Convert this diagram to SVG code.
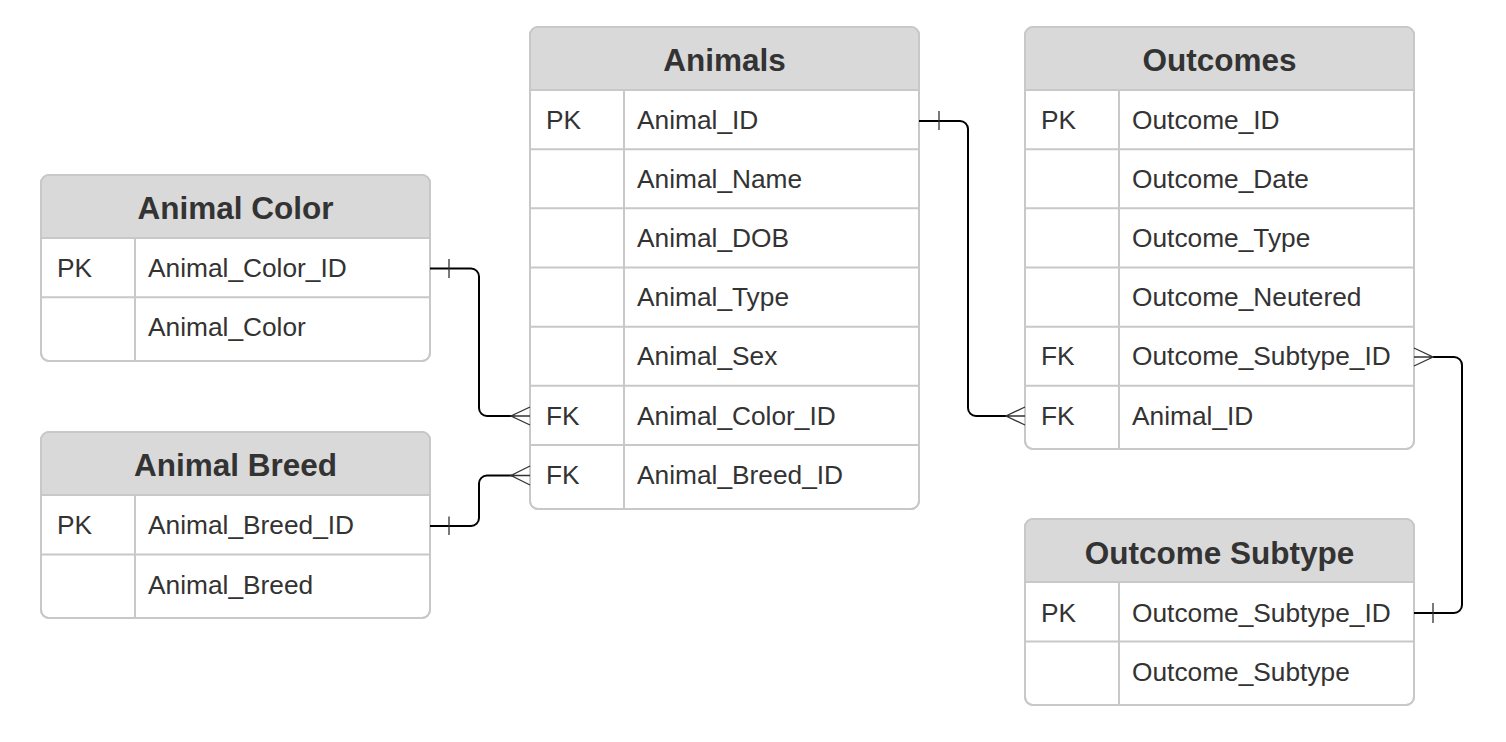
<svg xmlns="http://www.w3.org/2000/svg" width="1506" height="742" viewBox="0 0 1506 742">
<style>
.box{fill:#fff;stroke:#c8c8c8;stroke-width:2}
.hdr{fill:#d9d9d9;stroke:none}
.ln{stroke:#c8c8c8;stroke-width:2;fill:none}
.t{font-family:"Liberation Sans",Arial,sans-serif;font-size:31.5px;font-weight:bold;fill:#333;text-anchor:middle}
.f{font-family:"Liberation Sans",Arial,sans-serif;font-size:26.3px;fill:#333}
.c{fill:none;stroke:#000;stroke-width:2}
.m{fill:none;stroke:#333;stroke-width:1.3}
</style>
<rect width="1506" height="742" fill="#fff"/>

<g id="animals">
<rect class="box" x="530" y="27" width="389" height="482" rx="8"/>
<path class="hdr" d="M531,90 V35 a7,7 0 0 1 7,-7 H911 a7,7 0 0 1 7,7 V90 Z"/>
<rect class="box" x="530" y="27" width="389" height="482" rx="8" style="fill:none"/>
<path class="ln" d="M530,90H919 M530,149.2H919 M530,208.3H919 M530,267.5H919 M530,326.7H919 M530,385.8H919 M530,445H919 M624,90V509"/>
<text class="t" x="724.5" y="71">Animals</text>
<text class="f" x="546" y="129">PK</text><text class="f" x="637" y="129">Animal_ID</text>
<text class="f" x="637" y="188">Animal_Name</text>
<text class="f" x="637" y="247">Animal_DOB</text>
<text class="f" x="637" y="306">Animal_Type</text>
<text class="f" x="637" y="365">Animal_Sex</text>
<text class="f" x="546" y="425">FK</text><text class="f" x="637" y="425">Animal_Color_ID</text>
<text class="f" x="546" y="484">FK</text><text class="f" x="637" y="484">Animal_Breed_ID</text>
</g>

<g id="outcomes">
<rect class="box" x="1025" y="27" width="389" height="422" rx="8"/>
<path class="hdr" d="M1026,90 V35 a7,7 0 0 1 7,-7 H1406 a7,7 0 0 1 7,7 V90 Z"/>
<rect class="box" x="1025" y="27" width="389" height="422" rx="8" style="fill:none"/>
<path class="ln" d="M1025,90H1414 M1025,149.2H1414 M1025,208.3H1414 M1025,267.5H1414 M1025,326.7H1414 M1025,385.8H1414 M1119,90V449"/>
<text class="t" x="1219.5" y="71">Outcomes</text>
<text class="f" x="1041" y="129">PK</text><text class="f" x="1132" y="129">Outcome_ID</text>
<text class="f" x="1132" y="188">Outcome_Date</text>
<text class="f" x="1132" y="247">Outcome_Type</text>
<text class="f" x="1132" y="306">Outcome_Neutered</text>
<text class="f" x="1041" y="365">FK</text><text class="f" x="1132" y="365">Outcome_Subtype_ID</text>
<text class="f" x="1041" y="425">FK</text><text class="f" x="1132" y="425">Animal_ID</text>
</g>

<g id="animal-color">
<rect class="box" x="41" y="175" width="389" height="186" rx="8"/>
<path class="hdr" d="M42,238 V183 a7,7 0 0 1 7,-7 H422 a7,7 0 0 1 7,7 V238 Z"/>
<rect class="box" x="41" y="175" width="389" height="186" rx="8" style="fill:none"/>
<path class="ln" d="M41,238H430 M41,297.3H430 M135,238V361"/>
<text class="t" x="235.5" y="219">Animal Color</text>
<text class="f" x="57" y="277">PK</text><text class="f" x="148" y="277">Animal_Color_ID</text>
<text class="f" x="148" y="336">Animal_Color</text>
</g>

<g id="animal-breed">
<rect class="box" x="41" y="432" width="389" height="186" rx="8"/>
<path class="hdr" d="M42,495 V440 a7,7 0 0 1 7,-7 H422 a7,7 0 0 1 7,7 V495 Z"/>
<rect class="box" x="41" y="432" width="389" height="186" rx="8" style="fill:none"/>
<path class="ln" d="M41,495H430 M41,554.5H430 M135,495V618"/>
<text class="t" x="235.5" y="476">Animal Breed</text>
<text class="f" x="57" y="534">PK</text><text class="f" x="148" y="534">Animal_Breed_ID</text>
<text class="f" x="148" y="594">Animal_Breed</text>
</g>

<g id="outcome-subtype">
<rect class="box" x="1025" y="519" width="389" height="186" rx="8"/>
<path class="hdr" d="M1026,582 V527 a7,7 0 0 1 7,-7 H1406 a7,7 0 0 1 7,7 V582 Z"/>
<rect class="box" x="1025" y="519" width="389" height="186" rx="8" style="fill:none"/>
<path class="ln" d="M1025,582H1414 M1025,641.5H1414 M1119,582V705"/>
<text class="t" x="1219.5" y="564">Outcome Subtype</text>
<text class="f" x="1041" y="622">PK</text><text class="f" x="1132" y="622">Outcome_Subtype_ID</text>
<text class="f" x="1132" y="681">Outcome_Subtype</text>
</g>

<g id="connectors">
<path class="c" d="M430,268.5 H471 a8,8 0 0 1 8,8 V408 a8,8 0 0 0 8,8 H512"/>
<path class="m" d="M449,259V278 M530,407 L511,416 L530,425 M511,416H530"/>
<path class="c" d="M430,526 H471 a8,8 0 0 0 8,-8 V483.5 a8,8 0 0 1 8,-8 H512"/>
<path class="m" d="M449,516.5V535 M530,466 L511,475.5 L530,485 M511,475.5H530"/>
<path class="c" d="M919,121 H960 a8,8 0 0 1 8,8 V408 a8,8 0 0 0 8,8 H1007"/>
<path class="m" d="M939,111V130 M1025,407 L1006,416 L1025,425 M1006,416H1025"/>
<path class="c" d="M1433,357 H1454 a8,8 0 0 1 8,8 V605 a8,8 0 0 1 -8,8 H1414"/>
<path class="m" d="M1414,348 L1433,357 L1414,366 M1414,357H1433 M1433,603V623"/>
</g>
</svg>
